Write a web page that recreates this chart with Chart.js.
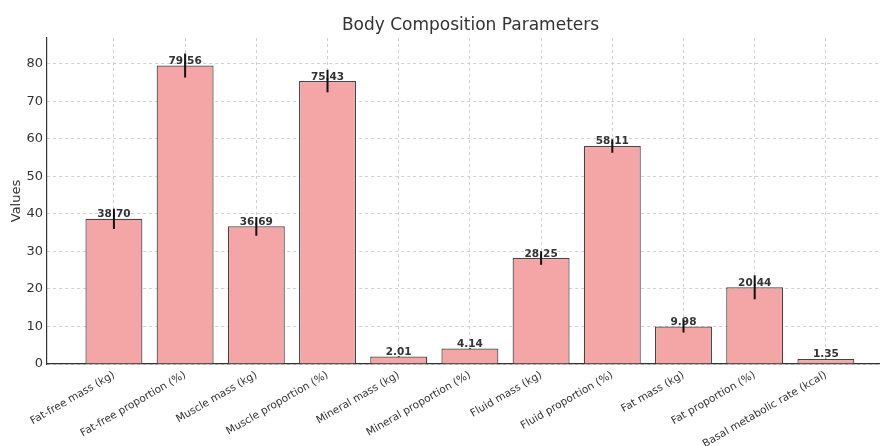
<!DOCTYPE html>
<html>
<head>
<meta charset="utf-8">
<script src="https://cdn.jsdelivr.net/npm/chart.js@4"></script>
<style>
  html, body { margin: 0; padding: 0; background: #fff; }
  #wrap { width: 880px; height: 446px; }
</style>
</head>
<body>
<div id="wrap"><canvas id="grafico"></canvas></div>
<script>
// valores
const categorias = [
    "Fat-free mass (kg)", "Fat-free proportion (%)", "Muscle mass (kg)",
    "Muscle proportion (%)", "Mineral mass (kg)", "Mineral proportion (%)",
    "Fluid mass (kg)", "Fluid proportion (%)", "Fat mass (kg)",
    "Fat proportion (%)", "Basal metabolic rate (kcal)"
];
const valores = [38.70, 79.56, 36.69, 75.43, 2.01, 4.14, 28.25, 58.11, 9.98, 20.44, 1.35];
const erros = [2.7, 3.2, 2.5, 3.0, 0.1, 0.1, 1.8, 1.8, 1.6, 3.2, 0.05];
const yTicks = [0, 10, 20, 30, 40, 50, 60, 70, 80];

const fonte = "'DejaVu Sans', sans-serif";

// titulo, rotulos e barras de erro
const extras = {
    id: "extras",
    afterDatasetsDraw(chart) {
        const ctx = chart.ctx;
        const area = chart.chartArea;
        const xs = chart.scales.x, ys = chart.scales.y;
        ctx.save();
        ctx.fillStyle = "#333";
        ctx.font = "17px " + fonte;
        ctx.textAlign = "center";
        ctx.textBaseline = "middle";
        ctx.fillText("Body Composition Parameters", (area.left + area.right) / 2 + 7, 26);

        ctx.font = "bold 10.5px " + fonte;
        ctx.textBaseline = "bottom";
        valores.forEach((v, i) => {
            ctx.fillText(v.toFixed(2), xs.getPixelForValue(i), ys.getPixelForValue(v) + 1);
        });

        ctx.strokeStyle = "#111";
        ctx.lineWidth = 2;
        valores.forEach((v, i) => {
            const x = xs.getPixelForValue(i);
            ctx.beginPath();
            ctx.moveTo(x, ys.getPixelForValue(v - erros[i]));
            ctx.lineTo(x, ys.getPixelForValue(v + erros[i]));
            ctx.stroke();
        });
        ctx.restore();
    }
};

new Chart(document.getElementById("grafico"), {
    type: "bar",
    data: {
        datasets: [{
            data: valores.map((v, i) => ({ x: i, y: v })),
            backgroundColor: "#F4A6A6",
            borderColor: "#444",
            borderWidth: 1.2,
            categoryPercentage: 1,
            barPercentage: 0.8
        }]
    },
    options: {
        responsive: true,
        maintainAspectRatio: false,
        animation: false,
        layout: { padding: { top: 38, right: 0, left: 0, bottom: 0 } },
        plugins: {
            legend: { display: false },
            tooltip: { enabled: false }
        },
        scales: {
            x: {
                type: "linear",
                offset: false,
                min: -0.94,
                max: 10.76,
                afterBuildTicks: (axis) => { axis.ticks = categorias.map((c, i) => ({ value: i })); },
                afterFit: (axis) => { axis.height = 82; },
                ticks: {
                    autoSkip: false,
                    minRotation: 30,
                    maxRotation: 30,
                    padding: 5,
                    color: "#333",
                    font: { family: fonte, size: 10.5 },
                    callback: (v) => categorias[v]
                },
                grid: {
                    color: "#d0d0d0",
                    offset: false,
                    drawTicks: false
                },
                border: { color: "#333", width: 1.2, dash: [3, 3] }
            },
            y: {
                min: 0,
                max: 86.9,
                afterBuildTicks: (axis) => { axis.ticks = yTicks.map(v => ({ value: v })); },
                afterFit: (axis) => { axis.width = 47; },
                ticks: {
                    padding: 4,
                    color: "#333",
                    font: { family: fonte, size: 13 }
                },
                grid: {
                    color: "#d0d0d0",
                    drawTicks: false
                },
                border: { color: "#333", width: 1.2, dash: [3, 3] },
                title: {
                    display: true,
                    text: "Values",
                    color: "#333",
                    padding: { top: 9, bottom: 0 },
                    font: { family: fonte, size: 13 }
                }
            }
        }
    },
    plugins: [extras]
});
</script>
</body>
</html>
